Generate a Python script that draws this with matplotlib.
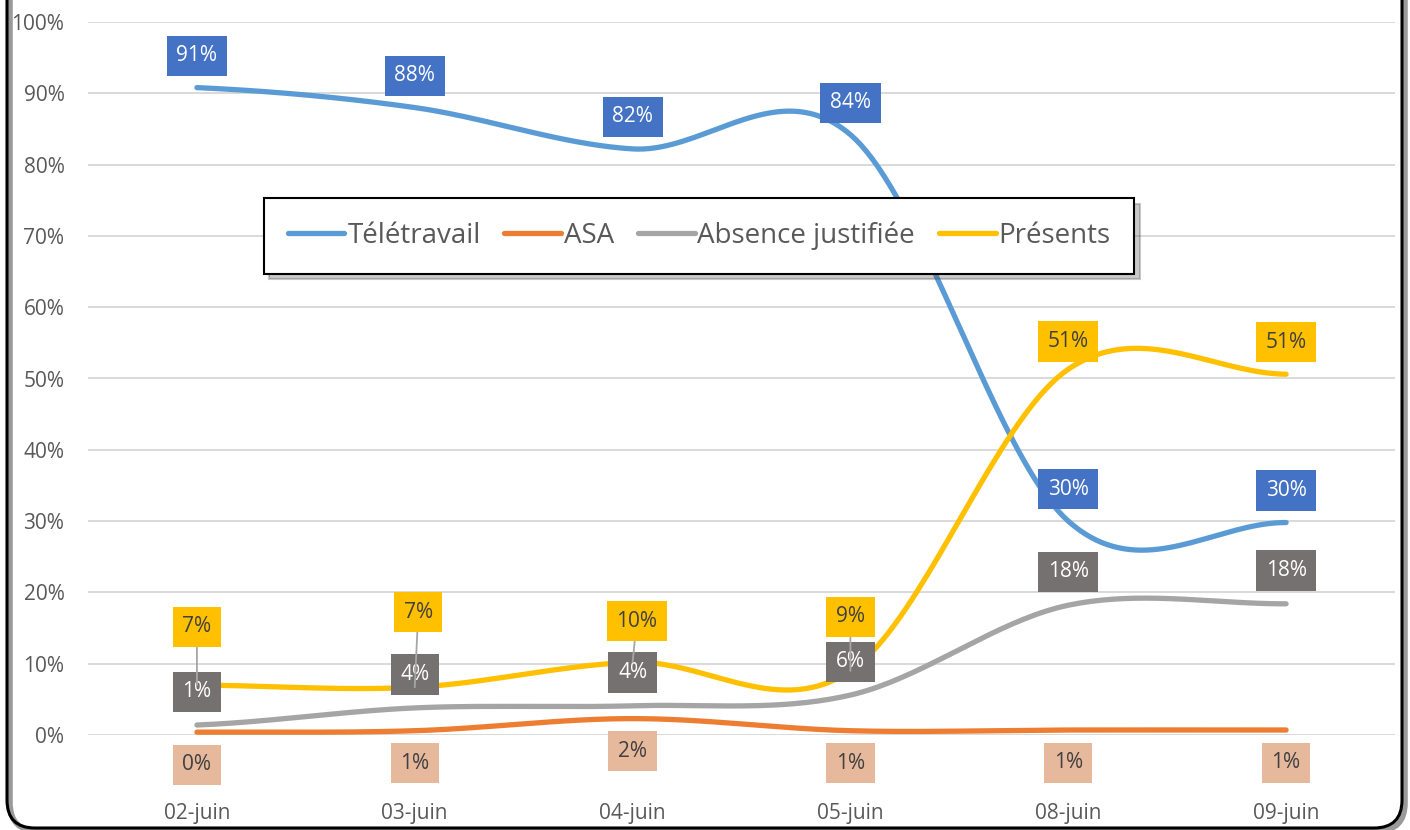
import numpy as np
import matplotlib.pyplot as plt
from matplotlib.patches import FancyBboxPatch
from matplotlib.transforms import IdentityTransform

plt.rcParams['font.family'] = ['Open Sans', 'DejaVu Sans']

# data (percent)
dates = ['02-juin', '03-juin', '04-juin', '05-juin', '08-juin', '09-juin']
teletravail = [90.8, 88.0, 82.2, 84.2, 30.0, 29.8]
asa = [0.4, 0.6, 2.3, 0.6, 0.7, 0.7]
absence = [1.4, 3.8, 4.1, 5.6, 18.2, 18.4]
presents = [7.0, 6.7, 10.2, 9.0, 51.3, 50.6]

# the "Présents" labels were dragged by hand in the original (offsets in points)
presents_label_dy = [42, 54, 29.5, 39, 20, 23]
presents_label_dx = [0, 2.5, 3, 0, 0, 0]


def smooth(y, steps=40):
    # Excel-like smoothed line: Catmull-Rom as cubic bezier segments
    y = np.asarray(y, dtype=float)
    n = len(y)
    xs, ys = [], []
    t = np.linspace(0, 1, steps)
    for i in range(n - 1):
        p0 = y[i - 1] if i > 0 else y[i]
        p1, p2 = y[i], y[i + 1]
        p3 = y[i + 2] if i + 2 < n else y[i + 1]
        c1 = p1 + (p2 - p0) / 6
        c2 = p2 - (p3 - p1) / 6
        b = lambda a, b_, c, d: ((1 - t) ** 3 * a + 3 * (1 - t) ** 2 * t * b_
                                 + 3 * (1 - t) * t ** 2 * c + t ** 3 * d)
        xs.append(b(i, i + 1 / 3, i + 2 / 3, i + 1))
        ys.append(b(p1, c1, c2, p2))
    return np.concatenate(xs), np.concatenate(ys)


fig = plt.figure(figsize=(14.1, 8.3), dpi=100)
ax = fig.add_axes([88 / 1410, 95 / 830, 1307 / 1410, 713 / 830])

series = [
    ('Télétravail', teletravail, '#5B9BD5'),
    ('ASA', asa, '#ED7D31'),
    ('Absence justifiée', absence, '#A5A5A5'),
    ('Présents', presents, '#FFC000'),
]
for name, vals, col in series:
    sx, sy = smooth(vals)
    ax.plot(sx, sy, color=col, lw=3.8, solid_capstyle='round', label=name)

x = np.arange(len(dates))


def label(xi, yi, txt, dy, face, tcolor, dx=0, leader=False):
    kw = {}
    if leader:
        kw['arrowprops'] = dict(arrowstyle='-', color='#A6A6A6', lw=1.3,
                                shrinkA=0, shrinkB=0)
    ax.annotate(txt, (xi, yi), xytext=(dx, dy), textcoords='offset points',
                ha='center', va='center', fontsize=15, color=tcolor,
                bbox=dict(boxstyle='square,pad=0.46', fc=face, ec='none'),
                zorder=5, **kw)


for i in x:
    label(i, teletravail[i], f'{round(teletravail[i])}%', 23, '#4472C4', 'white')
    label(i, asa[i], f'{round(asa[i])}%', -23.5, '#E6B89C', '#404040')
    label(i, absence[i], f'{round(absence[i])}%', 24, '#767171', 'white')
    label(i, presents[i], f'{round(presents[i])}%', presents_label_dy[i], '#FFC000',
          '#404040', dx=presents_label_dx[i], leader=i < 4)

ax.set_xlim(-0.5, len(dates) - 0.5)
ax.set_ylim(0, 100)
ax.set_xticks(x)
ax.set_xticklabels(dates)
ax.set_yticks(range(0, 101, 10))
ax.set_yticklabels([f'{v}%' for v in range(0, 101, 10)])
ax.tick_params(length=0, labelsize=15, colors='#595959')
ax.tick_params(axis='x', pad=49)
ax.tick_params(axis='y', pad=17)
for s in ax.spines.values():
    s.set_visible(False)
ax.grid(axis='y', color='#D9D9D9', lw=1.4)
ax.set_axisbelow(True)

leg = ax.legend(loc='center', bbox_to_anchor=(0.4675, 0.70), ncol=4, fontsize=20,
                frameon=True, fancybox=False, shadow={'ox': 4, 'oy': -4, 'alpha': 0.3},
                edgecolor='black', handlelength=2.05, handletextpad=0.1,
                columnspacing=0.85, borderpad=0.85, labelcolor='#595959')
leg.get_frame().set_linewidth(1.5)
leg.get_frame().set_alpha(1)

# chart border with rounded corners (top is cut off in the original)
shadow = FancyBboxPatch((10, -1), 1395, 900, boxstyle='round,pad=0,rounding_size=28',
                        transform=IdentityTransform(), fill=False, ec='#9A9A9A', lw=4)
frame = FancyBboxPatch((7, 2), 1395, 900, boxstyle='round,pad=0,rounding_size=28',
                       transform=IdentityTransform(), fill=False, ec='black', lw=2.2)
fig.add_artist(shadow)
fig.add_artist(frame)

fig.savefig('out.png', dpi=100)
